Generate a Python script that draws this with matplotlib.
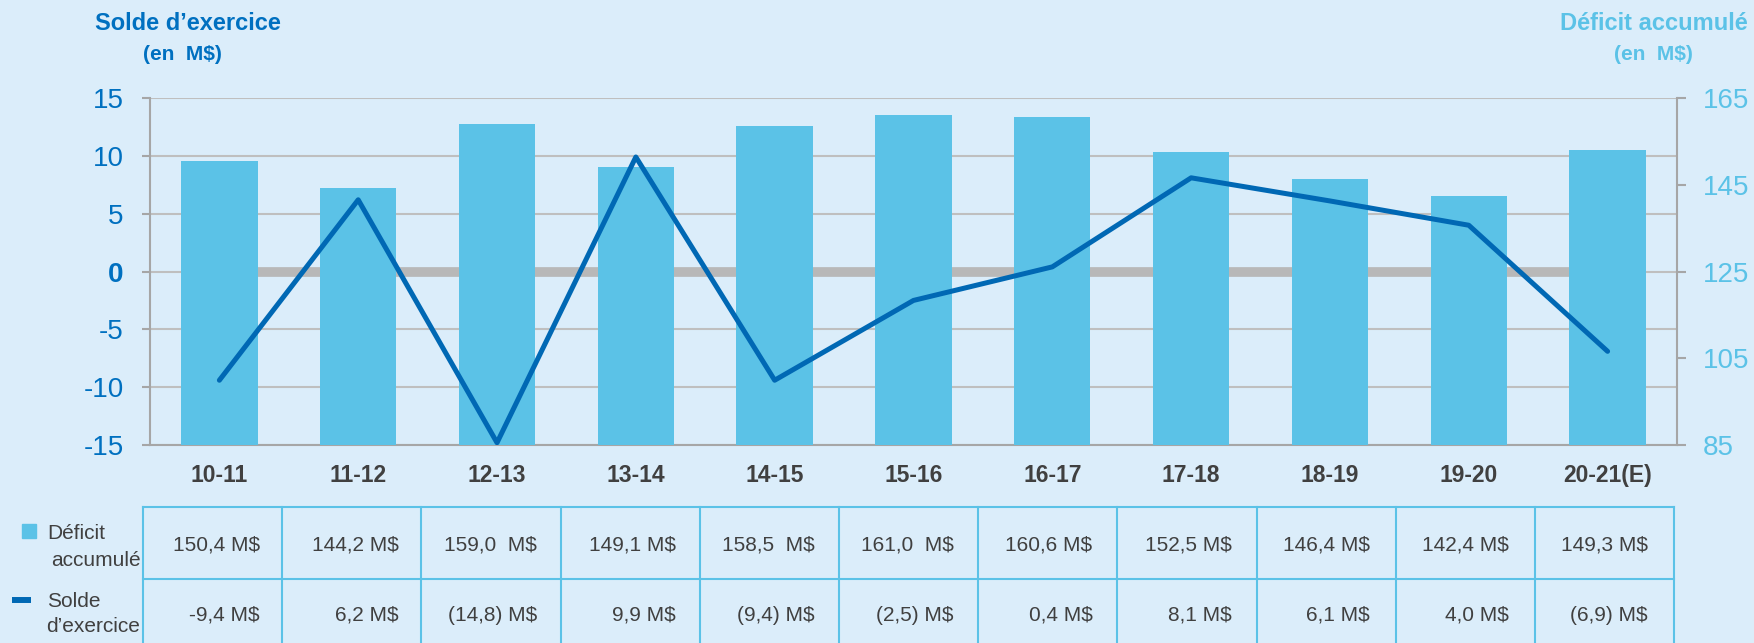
import numpy as np
import matplotlib
matplotlib.use("Agg")
import matplotlib.pyplot as plt
import matplotlib.transforms as mtransforms
from matplotlib.patches import Rectangle
from matplotlib.lines import Line2D

plt.rcParams["font.family"] = ["Liberation Sans", "DejaVu Sans"]
plt.rcParams["axes.unicode_minus"] = False

# ---------- data ----------
years = ["10-11", "11-12", "12-13", "13-14", "14-15", "15-16",
         "16-17", "17-18", "18-19", "19-20", "20-21(E)"]
# bar heights as drawn (last bar is drawn higher than its table value)
deficit = [150.4, 144.2, 159.0, 149.1, 158.5, 161.0, 160.6, 152.5, 146.4, 142.4, 153.1]
solde = [-9.4, 6.2, -14.8, 9.9, -9.4, -2.5, 0.4, 8.1, 6.1, 4.0, -6.9]
deficit_txt = ["150,4 M$", "144,2 M$", "159,0  M$", "149,1 M$", "158,5  M$", "161,0  M$",
               "160,6 M$", "152,5 M$", "146,4 M$", "142,4 M$", "149,3 M$"]
solde_txt = ["-9,4 M$", "6,2 M$", "(14,8) M$", "9,9 M$", "(9,4) M$", "(2,5) M$",
             "0,4 M$", "8,1 M$", "6,1 M$", "4,0 M$", "(6,9) M$"]
left_ticks = [-15, -10, -5, 0, 5, 10, 15]
right_ticks = [85, 105, 125, 145, 165]

BG = "#DBEDFA"
BAR = "#5BC2E7"
LINE = "#0068B4"
DARK_BLUE = "#0070C0"
GRID = "#BFBFBF"
SPINE = "#A6A6A6"
TXT = "#404040"

x = np.arange(len(years))

fig = plt.figure(figsize=(17.54, 6.43), dpi=100, facecolor=BG)
ax = fig.add_axes([0.0855, 0.3079, 0.8706, 0.5397])
ax.set_facecolor(BG)

# left axis: grid + zero reference
ax.set_xlim(-0.5, len(years) - 0.5)
ax.set_ylim(-15, 15)
ax.set_yticks(left_ticks)
ax.yaxis.grid(True, color=GRID, lw=1.5)
ax.set_axisbelow(True)
ax.hlines(0, x[0], x[-1], color="#B8B8B8", lw=7, zorder=1)
ax.tick_params(axis="y", colors=SPINE, labelcolor=DARK_BLUE, labelsize=20,
               length=6, width=1.5, pad=13)
for lbl in ax.get_yticklabels():
    if lbl.get_text() == "0":
        lbl.set_fontweight("bold")
ax.set_xticks(x)
ax.set_xticklabels(years, fontsize=16.5, fontweight="bold", color=TXT)
ax.tick_params(axis="x", length=0, pad=14)
for s in ["top", "right"]:
    ax.spines[s].set_visible(False)
for s in ["left", "bottom"]:
    ax.spines[s].set_color(SPINE)
    ax.spines[s].set_linewidth(1.5)

# right axis: bars
ax2 = ax.twinx()
ax2.bar(x, deficit, width=0.55, color=BAR, zorder=2)
ax2.set_ylim(85, 165)
ax2.set_yticks(right_ticks)
ax2.tick_params(axis="y", colors=SPINE, labelcolor=BAR, labelsize=20,
                length=6.5, width=1.5, pad=12)
for s in ["top", "left", "bottom"]:
    ax2.spines[s].set_visible(False)
ax2.spines["right"].set_color(SPINE)
ax2.spines["right"].set_linewidth(1.5)

# overlay for the line in left-axis units
ax3 = ax.twinx()
ax3.set_ylim(-15, 15)
ax3.plot(x, solde, color=LINE, lw=3.6, solid_capstyle="round", solid_joinstyle="round")
ax3.axis("off")

# axis titles
fig.text(0.1072, 0.9642, "Solde d\u2019exercice", fontsize=17, fontweight="bold",
         color=DARK_BLUE, ha="center", va="center")
fig.text(0.1038, 0.9145, "(en  M$)", fontsize=15, fontweight="bold",
         color=DARK_BLUE, ha="center", va="center")
fig.text(0.943, 0.9642, "D\u00e9ficit accumul\u00e9", fontsize=17, fontweight="bold",
         color=BAR, ha="center", va="center")
fig.text(0.9424, 0.9145, "(en  M$)", fontsize=15, fontweight="bold",
         color=BAR, ha="center", va="center")

# ---------- data table ----------
trans = mtransforms.blended_transform_factory(ax.transData, fig.transFigure)
tbl_top, tbl_mid, tbl_bot = 0.2115, 0.0995, 0.0
edges = np.linspace(-0.55, len(years) - 0.52, len(years) + 1)
for e in edges:
    fig.add_artist(Line2D([e, e], [tbl_bot, tbl_top], transform=trans, color=BAR, lw=1.5))
for yy in (tbl_top, tbl_mid):
    fig.add_artist(Line2D([edges[0], edges[-1]], [yy, yy], transform=trans, color=BAR, lw=1.5))
for i in range(len(years)):
    fig.text(x[i] + 0.29, 0.1524, deficit_txt[i], transform=trans, fontsize=15,
             color=TXT, ha="right", va="center")
    fig.text(x[i] + 0.29, 0.0435, solde_txt[i], transform=trans, fontsize=15,
             color=TXT, ha="right", va="center")

# row legend
fig.add_artist(Rectangle((0.0125, 0.1635), 14 / 1754, 14 / 643,
                         transform=fig.transFigure, color=BAR))
fig.text(0.0268, 0.171, "D\u00e9ficit", fontsize=15, color=TXT, va="center")
fig.text(0.029, 0.129, "accumul\u00e9", fontsize=15, color=TXT, va="center")
fig.add_artist(Line2D([0.0068, 0.0177], [0.0669, 0.0669], transform=fig.transFigure,
                      color=LINE, lw=4.3, solid_capstyle="butt"))
fig.text(0.0268, 0.0638, "Solde", fontsize=15, color=TXT, va="center")
fig.text(0.0262, 0.0249, "d\u2019exercice", fontsize=15, color=TXT, va="center")

fig.savefig("out.png", dpi=100, facecolor=BG)
